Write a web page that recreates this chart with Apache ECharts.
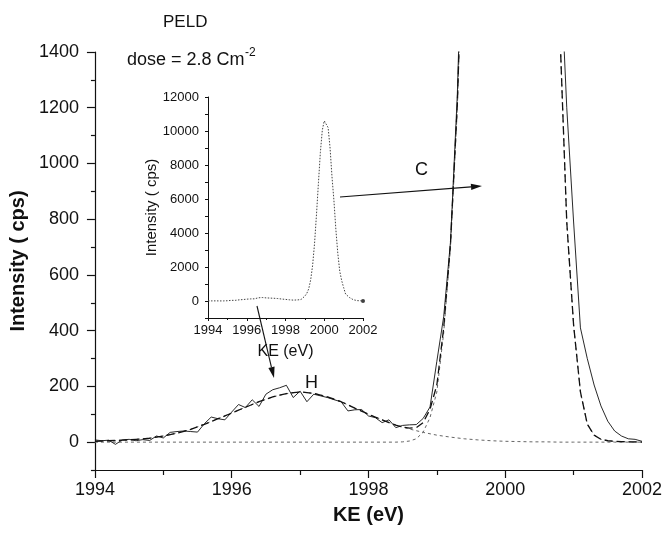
<!DOCTYPE html>
<html>
<head>
    <meta charset="UTF-8">
    <title>PELD spectrum</title>
    <script src="https://cdn.jsdelivr.net/npm/echarts@6/dist/echarts.min.js"></script>
    <style>
        html, body { margin: 0; padding: 0; background: #fff; }
        #chart { width: 665px; height: 534px; }
    </style>
</head>
<body>
<div id="chart"></div>
<script>
    // measured spectrum, 0.1 eV step from 1994 to 2002
    var keStart = 1994, keStep = 0.1;
    var measured = [
        8, 5, 7, -8, 8, 10, 5, 9, 6, 22,
        15, 35, 38, 40, 38, 36, 66, 90, 84, 80,
        108, 135, 124, 152, 128, 172, 188, 195, 204, 160,
        183, 145, 172, 166, 160, 152, 145, 112, 116, 117,
        94, 88, 70, 80, 52, 60, 62, 63, 85, 126,
        290, 450, 720, 1250, 2100, 3400, 5100, 6950, 8750, 10050,
        10600, 10650, 10200, 9000, 7300, 5900, 4200, 2800, 1750, 1200,
        790, 410, 300, 205, 130, 75, 40, 22, 12, 10,
        3
    ];
    // total fit (H + C), same energy grid
    var fitTotal = [
        3, 4, 5, 6, 7, 8, 10, 12, 14, 18,
        22, 27, 32, 39, 46, 55, 64, 74, 84, 94,
        104, 115, 125, 135, 145, 154, 162, 169, 174, 178,
        180, 178, 175, 169, 162, 154, 145, 134, 122, 111,
        100, 90, 80, 70, 61, 54, 50, 52, 70, 118,
        205, 410, 715, 1215, 2010, 3310, 5005, 6905, 8700, 10000,
        10600, 10600, 10100, 8800, 7000, 5200, 3500, 2300, 1470, 790,
        420, 180, 65, 25, 10, 5, 3, 2, 1, 1,
        0
    ];
    // H component, 0.2 eV step
    var hStep = 0.2;
    var hComp = [
        3, 5, 7, 10, 14,
        22, 32, 46, 64, 84,
        104, 125, 145, 162, 174,
        180, 175, 162, 145, 122,
        100, 80, 61, 47, 35,
        25, 18, 12, 8, 5,
        3, 2, 1, 1, 0,
        0, 0, 0, 0, 0,
        0
    ];
    // C component
    var cKe = [1994, 1998.4, 1998.5, 1998.6, 1998.7, 1998.8, 1998.9, 1999.0, 1999.1, 1999.2, 1999.3, 1999.4, 1999.5,
        2000.7, 2000.8, 2000.9, 2001.0, 2001.1, 2001.2, 2001.3, 2001.4, 2001.6, 2002];
    var cComp = [0, 0, 1, 4, 12, 36, 88, 180, 392, 698, 1200, 2000, 3300,
        2300, 1470, 790, 420, 180, 65, 25, 10, 2, 0];

    var mainYLabels = [0, 200, 400, 600, 800, 1000, 1200, 1400];
    var mainYMinor = [-100, 100, 300, 500, 700, 900, 1100, 1300];

    function pairs(start, step, vals) {
        return vals.map(function (v, i) { return [+(start + i * step).toFixed(2), v]; });
    }
    function zip(xs, ys) {
        return xs.map(function (x, i) { return [x, ys[i]]; });
    }
    function plain(v) { return String(v); }

    var font = 'Liberation Sans, Arial, sans-serif';
    var black = '#111';

    // arrow annotation made of a line and a filled head
    function arrow(x1, y1, x2, y2) {
        var dx = x2 - x1, dy = y2 - y1, len = Math.sqrt(dx * dx + dy * dy);
        var ux = dx / len, uy = dy / len, hl = 11, hw = 3.2;
        var bx = x2 - ux * hl, by = y2 - uy * hl;
        return [
            {type: 'line', shape: {x1: x1, y1: y1, x2: bx, y2: by}, style: {stroke: black, lineWidth: 1.1}},
            {type: 'polygon', shape: {points: [[x2, y2], [bx - uy * hw, by + ux * hw], [bx + uy * hw, by - ux * hw]]},
                style: {fill: black}}
        ];
    }

    var chart = echarts.init(document.getElementById('chart'), null, {renderer: 'canvas'});

    var mainLine = {onZero: false, lineStyle: {color: black, width: 1.2}};
    var insetLine = {onZero: false, lineStyle: {color: black, width: 1}};

    var option = {
        animation: false,
        backgroundColor: '#fff',
        grid: [
            {left: 93, right: 22, top: 52, bottom: 64},
            {left: 208, top: 97, width: 155, height: 221}
        ],
        xAxis: [
            {
                type: 'value', gridIndex: 0, min: 1994, max: 2002, interval: 2,
                axisLine: mainLine, splitLine: {show: false},
                axisTick: {length: 8, lineStyle: {color: black, width: 1.2}},
                minorTick: {show: true, splitNumber: 2, length: 5, lineStyle: {color: black, width: 1.2}},
                axisLabel: {fontSize: 18, color: black, margin: 11, fontFamily: font, formatter: plain},
                name: 'KE (eV)', nameLocation: 'middle', nameGap: 35,
                nameTextStyle: {fontSize: 20, fontWeight: 'bold', color: black, fontFamily: font}
            },
            {
                type: 'value', gridIndex: 1, min: 1994, max: 2002, interval: 2,
                axisLine: insetLine, splitLine: {show: false},
                axisTick: {length: 3, lineStyle: {color: black}},
                minorTick: {show: true, splitNumber: 2, length: 2, lineStyle: {color: black}},
                axisLabel: {fontSize: 13, color: black, margin: 6, fontFamily: font, formatter: plain},
                name: 'KE (eV)', nameLocation: 'middle', nameGap: 26,
                nameTextStyle: {fontSize: 16, color: black, fontFamily: font}
            }
        ],
        yAxis: [
            {
                type: 'value', gridIndex: 0, min: -100, max: 1400,
                axisLine: mainLine, splitLine: {show: false},
                axisTick: {length: 8, customValues: mainYLabels, lineStyle: {color: black, width: 1.2}},
                axisLabel: {fontSize: 18, color: black, margin: 16, customValues: mainYLabels, fontFamily: font, formatter: plain},
                name: 'Intensity ( cps)', nameLocation: 'middle', nameGap: 56,
                nameTextStyle: {fontSize: 20, fontWeight: 'bold', color: black, fontFamily: font}
            },
            {
                type: 'value', gridIndex: 0, min: -100, max: 1400, position: 'left', offset: 0,
                axisLine: {show: false}, splitLine: {show: false}, axisLabel: {show: false},
                axisTick: {show: true, length: 4, customValues: mainYMinor, lineStyle: {color: black, width: 1.2}}
            },
            {
                type: 'value', gridIndex: 1, min: -1000, max: 12000, interval: 1000,
                axisLine: insetLine, splitLine: {show: false},
                axisTick: {length: 3, lineStyle: {color: black}},
                axisLabel: {
                    fontSize: 13, color: black, margin: 9, fontFamily: font,
                    formatter: function (v) { return (v >= 0 && v % 2000 === 0) ? String(v) : ''; }
                },
                name: 'Intensity ( cps)', nameLocation: 'middle', nameGap: 48,
                nameTextStyle: {fontSize: 15, color: black, fontFamily: font}
            }
        ],
        series: [
            {
                type: 'line', xAxisIndex: 0, yAxisIndex: 0, symbol: 'none',
                data: pairs(keStart, hStep, hComp),
                lineStyle: {color: '#666', width: 1, type: [3, 3]}
            },
            {
                type: 'line', xAxisIndex: 0, yAxisIndex: 0, symbol: 'none',
                data: zip(cKe, cComp),
                lineStyle: {color: '#666', width: 1, type: [3, 3]}
            },
            {
                type: 'line', xAxisIndex: 0, yAxisIndex: 0, symbol: 'none',
                data: pairs(keStart, keStep, fitTotal),
                lineStyle: {color: black, width: 1.3, type: [8, 4]}
            },
            {
                type: 'line', xAxisIndex: 0, yAxisIndex: 0, symbol: 'none',
                data: pairs(keStart, keStep, measured),
                lineStyle: {color: black, width: 0.9}
            },
            {
                type: 'line', xAxisIndex: 1, yAxisIndex: 2, symbol: 'none',
                data: pairs(keStart, keStep, measured),
                lineStyle: {color: '#444', width: 1, type: [1.5, 1.5]}
            },
            {
                type: 'scatter', xAxisIndex: 1, yAxisIndex: 2, symbolSize: 4,
                data: [[2002, measured[measured.length - 1]]],
                itemStyle: {color: black}
            }
        ],
        graphic: [
            {type: 'text', left: 163, top: 14, style: {text: 'PELD', fill: black, font: '17px ' + font}},
            {type: 'text', left: 127, top: 51, style: {text: 'dose = 2.8 Cm', fill: black, font: '18px ' + font}},
            {type: 'text', left: 245, top: 47, style: {text: '-2', fill: black, font: '12px ' + font}},
            {type: 'text', left: 415, top: 161, style: {text: 'C', fill: black, font: '18px ' + font}},
            {type: 'text', left: 305, top: 374, style: {text: 'H', fill: black, font: '18px ' + font}}
        ].concat(arrow(340, 197, 482, 186), arrow(257, 306, 274, 378))
    };

    chart.setOption(option);
</script>
</body>
</html>
